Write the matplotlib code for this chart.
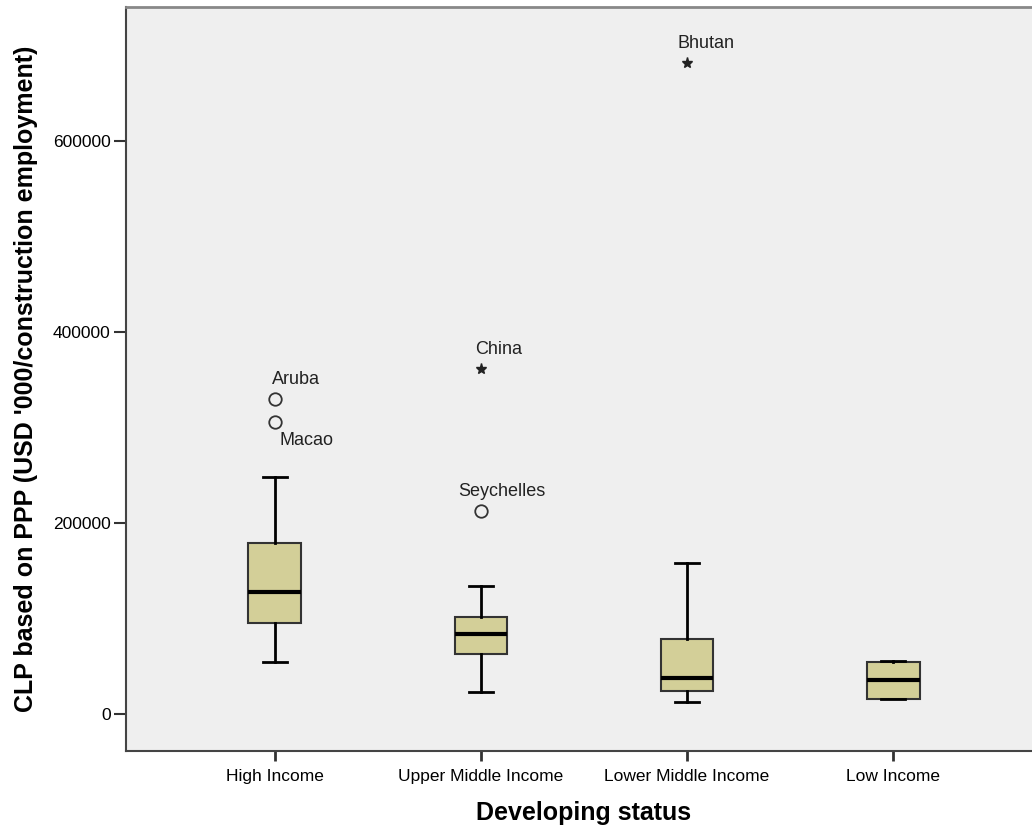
import matplotlib
matplotlib.use("Agg")
from matplotlib import pyplot as plt

plt.rcParams['font.family'] = ['Liberation Sans', 'DejaVu Sans']

# data
groups = ["High Income", "Upper Middle Income", "Lower Middle Income", "Low Income"]
whislo = [54500, 23000, 12600, 15700]
q1 = [95300, 62800, 24100, 15700]
med = [127700, 83800, 37700, 35600]
q3 = [179000, 101600, 78500, 54500]
whishi = [248200, 134000, 158100, 55500]

# outliers: (group index, value, label, marker)
out_group = [0, 0, 1, 1, 2]
out_value = [329800, 305800, 212600, 361300, 681700]
out_label = ["Aruba", "Macao", "Seychelles", "China", "Bhutan"]
out_marker = ["o", "o", "o", "*", "*"]
out_offset = [(15, 14), (23, -13), (15, 14), (13, 14), (14, 14)]

fig = plt.figure(figsize=(10.32, 8.34), dpi=100)
ax = fig.add_axes([126 / 1032, 1 - 751 / 834, (1042 - 126) / 1032, (751 - 7) / 834])
ax.set_facecolor("#efefef")

stats = []
for i, g in enumerate(groups):
    stats.append(dict(label=g, whislo=whislo[i], q1=q1[i], med=med[i],
                      q3=q3[i], whishi=whishi[i], fliers=[]))

pos = [1, 2, 3, 4]
ax.bxp(stats, positions=pos, widths=0.257, patch_artist=True, showfliers=False,
       boxprops=dict(facecolor="#d3cf98", edgecolor="#333333", linewidth=1.5),
       medianprops=dict(color="black", linewidth=3),
       whiskerprops=dict(color="black", linewidth=2),
       capprops=dict(color="black", linewidth=2),
       capwidths=0.12)

for g, v, lab, m, off in zip(out_group, out_value, out_label, out_marker, out_offset):
    x = pos[g]
    if m == "o":
        ax.plot(x, v, marker="o", markersize=9, markerfacecolor="none",
                markeredgecolor="#333333", markeredgewidth=1.3, linestyle="none")
    else:
        ax.plot(x, v, marker="*", markersize=8, color="#222222", linestyle="none")
    ax.annotate(lab, (x, v), xytext=off, textcoords="offset points",
                ha="center", va="center", fontsize=13, color="#222222")

ax.set_xlim(0.277, 4.723)
ax.set_ylim(-38700, 740300)
ax.set_xticks(pos)
ax.set_xticklabels(groups, fontsize=12.5)
ax.set_yticks([0, 200000, 400000, 600000])
ax.set_yticklabels(["0", "200000", "400000", "600000"], fontsize=12.5)
ax.tick_params(axis="y", length=9, width=1.5, color="#333333", pad=2)
ax.tick_params(axis="x", length=7, width=2, color="#333333", pad=6)

ax.spines["left"].set_color("#444444")
ax.spines["left"].set_linewidth(1.5)
ax.spines["bottom"].set_color("#444444")
ax.spines["bottom"].set_linewidth(1.5)
ax.spines["top"].set_color("#888888")
ax.spines["top"].set_linewidth(2)
ax.spines["right"].set_visible(False)

ax.set_xlabel("Developing status", fontsize=18, fontweight="bold", labelpad=12)
ax.set_ylabel("CLP based on PPP (USD '000/construction employment)", fontsize=18,
              fontweight="bold", labelpad=11)

fig.savefig("out.png", dpi=100)
